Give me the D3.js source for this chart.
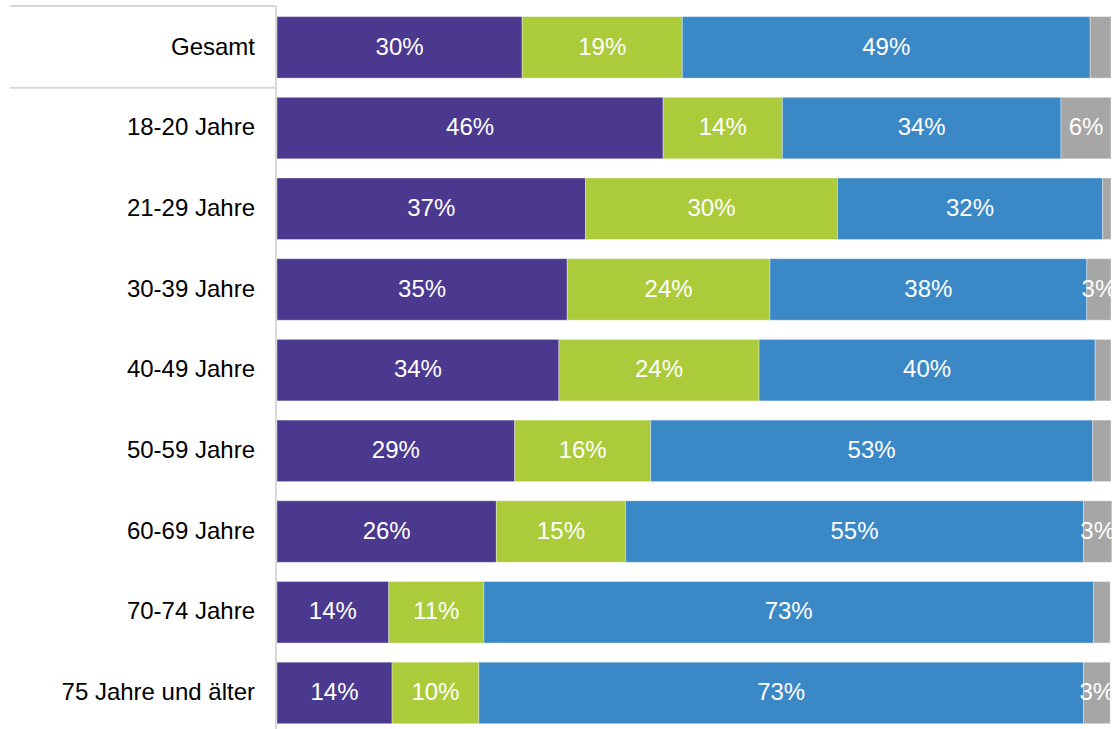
<!DOCTYPE html>
<html>
<head>
<meta charset="utf-8">
<script src="https://cdn.jsdelivr.net/npm/d3@7.9.0/dist/d3.min.js"></script>
<style>
  body { margin: 0; background: #fff; }
  svg { display: block; font-family: Arial, "Liberation Sans", sans-serif; }
</style>
</head>
<body>
<div id="chart"></div>
<script>
// categories (top to bottom)
const groups = ['Gesamt', '18-20 Jahre', '21-29 Jahre', '30-39 Jahre', '40-49 Jahre',
  '50-59 Jahre', '60-69 Jahre', '70-74 Jahre', '75 Jahre und älter'];

// shares per answer (percent)
const purple = [29.4, 46.3, 37.0, 34.8, 33.8, 28.5, 26.3, 13.4, 13.8];
const green  = [19.2, 14.3, 30.2, 24.3, 24.0, 16.3, 15.5, 11.4, 10.4];
const blue   = [48.9, 33.4, 31.8, 38.0, 40.3, 53.0, 54.9, 73.1, 72.5];
const grey   = [2.5, 6.0, 1.0, 2.9, 1.9, 2.2, 3.4, 2.0, 3.2];

// printed labels
const purpleLabels = ['30%', '46%', '37%', '35%', '34%', '29%', '26%', '14%', '14%'];
const greenLabels  = ['19%', '14%', '30%', '24%', '24%', '16%', '15%', '11%', '10%'];
const blueLabels   = ['49%', '34%', '32%', '38%', '40%', '53%', '55%', '73%', '73%'];
const greyLabels   = ['', '6%', '', '3%', '', '', '3%', '', '3%'];

const keys = ['purple', 'green', 'blue', 'grey'];
const colors = { purple: '#4b3990', green: '#abcb3a', blue: '#3b88c7', grey: '#a6a6a6' };
const labels = { purple: purpleLabels, green: greenLabels, blue: blueLabels, grey: greyLabels };

const rows = groups.map((g, i) => ({
  group: g, purple: purple[i], green: green[i], blue: blue[i], grey: grey[i], index: i
}));

const width = 1112;
const height = 729;
const left = 277;

const x = d3.scaleLinear().domain([0, 100]).range([left, 1111]);
const y = d3.scaleBand()
  .domain(groups)
  .range([7.0, 733.3])
  .paddingInner(0.238)
  .paddingOuter(0.119);

const svg = d3.select('#chart')
  .append('svg')
  .attr('width', width)
  .attr('height', height);

const stack = d3.stack().keys(keys);
const series = stack(rows);

const layers = svg.append('g')
  .selectAll('g')
  .data(series)
  .join('g')
  .attr('fill', d => colors[d.key]);

layers.selectAll('rect')
  .data(d => d)
  .join('rect')
  .attr('x', d => x(d[0]))
  .attr('y', d => y(d.data.group))
  .attr('width', d => x(d[1]) - x(d[0]))
  .attr('height', y.bandwidth())
  .attr('stroke', 'rgba(255,255,255,0.35)')
  .attr('stroke-width', 1);

// value labels
layers.each(function (s) {
  d3.select(this).selectAll('text')
    .data(s)
    .join('text')
    .attr('x', d => (x(d[0]) + x(d[1])) / 2)
    .attr('y', d => y(d.data.group) + y.bandwidth() / 2)
    .attr('dy', '0.3em')
    .attr('text-anchor', 'middle')
    .attr('fill', '#fff')
    .style('font-size', '24px')
    .text(d => labels[s.key][d.data.index]);
});

// category axis
const yAxis = d3.axisLeft(y).tickSize(0).tickPadding(21);
const ga = svg.append('g')
  .attr('transform', `translate(${left - 1},0)`)
  .call(yAxis);
ga.select('.domain').remove();
ga.selectAll('text')
  .attr('fill', '#000')
  .attr('dy', '0.3em')
  .style('font-size', '24px')
  .style('font-family', 'Arial, "Liberation Sans", sans-serif');

// separator lines
const lineColor = '#d9d9d9';
svg.append('line')
  .attr('x1', left - 1).attr('x2', left - 1)
  .attr('y1', 6).attr('y2', height)
  .attr('stroke', lineColor).attr('stroke-width', 2);

const sepY = [6, (y('Gesamt') + y.bandwidth() + y('18-20 Jahre')) / 2];
svg.selectAll('line.sep')
  .data(sepY)
  .join('line')
  .attr('class', 'sep')
  .attr('x1', 10).attr('x2', left - 1)
  .attr('y1', d => d).attr('y2', d => d)
  .attr('stroke', lineColor).attr('stroke-width', 2);
</script>
</body>
</html>
